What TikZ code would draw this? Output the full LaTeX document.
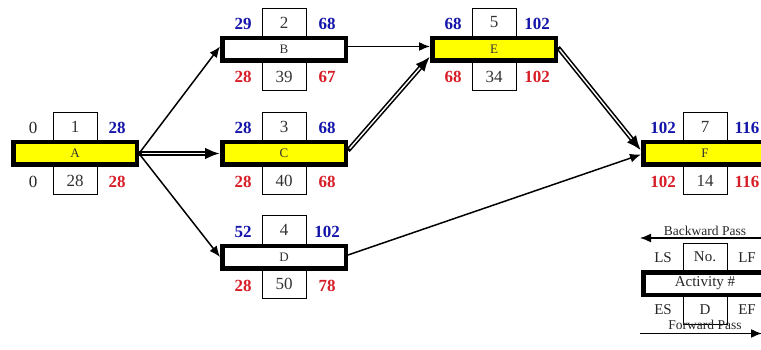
\documentclass[tikz,border=0pt]{standalone}
\usepackage{fontspec}
\setmainfont{Liberation Serif}
\usetikzlibrary{arrows.meta,calc}
\definecolor{fwdblue}{RGB}{20,20,170}
\definecolor{bwdred}{RGB}{215,30,40}
\definecolor{actyellow}{RGB}{255,255,0}
\tikzset{
  bar/.style={draw=black, line width=4.5pt, minimum width=123.5pt, minimum height=22.5pt,
    inner sep=0pt, font=\fontsize{13}{13}\selectfont, text=black!80},
  numbox/.style={draw=black, line width=1pt, fill=white, minimum width=44pt,
    minimum height=28pt, inner sep=0pt, font=\fontsize{17}{17}\selectfont, text=black!80},
  plain/.style={font=\fontsize{17}{17}\selectfont, text=black!85, inner sep=0pt},
  bluenum/.style={font=\fontsize{17}{17}\selectfont\bfseries, text=fwdblue, inner sep=0pt},
  rednum/.style={font=\fontsize{17}{17}\selectfont\bfseries, text=bwdred, inner sep=0pt},
  keytext/.style={font=\fontsize{15}{15}\selectfont, text=black!85, inner sep=0pt},
  passlabel/.style={font=\fontsize{13.5}{13.5}\selectfont, text=black!85, inner sep=0pt},
  arr/.style={line width=1.5pt, -{Latex[length=11pt,width=9pt]}},
  % critical link: heavy black line with a white core and a large head
  crit/.style={line width=4.6pt, -{Latex[length=15pt,width=12pt]},
    postaction={draw=white, line width=1.4pt, -, shorten >=15pt, shorten <=2.5pt}},
}
% one activity: number box above, duration box below, then the bar on top
\newcommand{\activitynode}[7]{% name, x, y, fill, label, no, dur
  \node[numbox] (#1-no) at (#2,#3-27) {#6};
  \node[numbox] (#1-dur) at (#2,#3+27) {#7};
  \node[bar, fill=#4] (#1) at (#2,#3) {#5};
}
\begin{document}
\begin{tikzpicture}[x=1pt,y=-1pt]
\useasboundingbox (0,0) rectangle (761,350);
\clip (0,0) rectangle (761,350);

% activities
\activitynode{A}{75}{153.5}{actyellow}{A}{1}{28}
\activitynode{B}{284}{49.5}{white}{B}{2}{39}
\activitynode{C}{284}{153.5}{actyellow}{C}{3}{40}
\activitynode{D}{284}{257}{white}{D}{4}{50}
\activitynode{E}{494}{49.5}{actyellow}{E}{5}{34}
\activitynode{F}{705}{153.5}{actyellow}{F}{7}{14}

% start and finish times
\node[plain]   (A-ls) at (33,128) {0};
\node[bluenum] (A-lf) at (117,128) {28};
\node[plain]   (A-es) at (33,182) {0};
\node[rednum]  (A-ef) at (117,182) {28};

\node[bluenum] (B-ls) at (243,24) {29};
\node[bluenum] (B-lf) at (327,24) {68};
\node[rednum]  (B-es) at (243,77) {28};
\node[rednum]  (B-ef) at (327,77) {67};

\node[bluenum] (C-ls) at (243,128) {28};
\node[bluenum] (C-lf) at (327,128) {68};
\node[rednum]  (C-es) at (243,182) {28};
\node[rednum]  (C-ef) at (327,182) {68};

\node[bluenum] (D-ls) at (243,232) {52};
\node[bluenum] (D-lf) at (327,232) {102};
\node[rednum]  (D-es) at (243,286) {28};
\node[rednum]  (D-ef) at (327,286) {78};

\node[bluenum] (E-ls) at (453,24) {68};
\node[bluenum] (E-lf) at (537,24) {102};
\node[rednum]  (E-es) at (453,77) {68};
\node[rednum]  (E-ef) at (537,77) {102};

\node[bluenum] (F-ls) at (663,128) {102};
\node[bluenum] (F-lf) at (747,128) {116};
\node[rednum]  (F-es) at (663,182) {102};
\node[rednum]  (F-ef) at (747,182) {116};

% precedence links (critical ones doubled)
\draw[arr]  (A.east) -- ([yshift=3pt]B.west);
\draw[crit] (A.east) -- (C.west);
\draw[arr]  (A.east) -- (D.west);
\draw[arr]  ([yshift=3pt]B.east) -- ([yshift=3pt]E.west);
\draw[crit] ([yshift=3pt]C.east) -- ([yshift=-7pt]E.west);
\draw[crit] ([yshift=2pt]E.east) -- ([yshift=3pt]F.west);
\draw[arr]  ([yshift=2pt]D.east) -- ([yshift=-1pt]F.west);

% key
\node[numbox, keytext] (K-no) at (705,257) {No.};
\node[numbox, keytext] (K-dur) at (705,310) {D};
\node[bar, fill=white, keytext] (K) at (705,283.5) {Activity \#};
\node[keytext] (K-ls) at (663,258) {LS};
\node[keytext] (K-lf) at (747,258) {LF};
\node[keytext] (K-es) at (663,310) {ES};
\node[keytext] (K-ef) at (747,310) {EF};

\node[passlabel] (bp) at (705,230.5) {Backward Pass};
\coordinate (bp-r) at (775,238);
\coordinate (bp-l) at (640,238);
\draw[arr] (bp-r) -- (bp-l);
\node[passlabel] (fp) at (705,324.5) {Forward Pass};
\coordinate (fp-l) at (640,333.5);
\coordinate (fp-r) at (762,333.5);
\draw[arr] (fp-l) -- (fp-r);
\end{tikzpicture}
\end{document}
